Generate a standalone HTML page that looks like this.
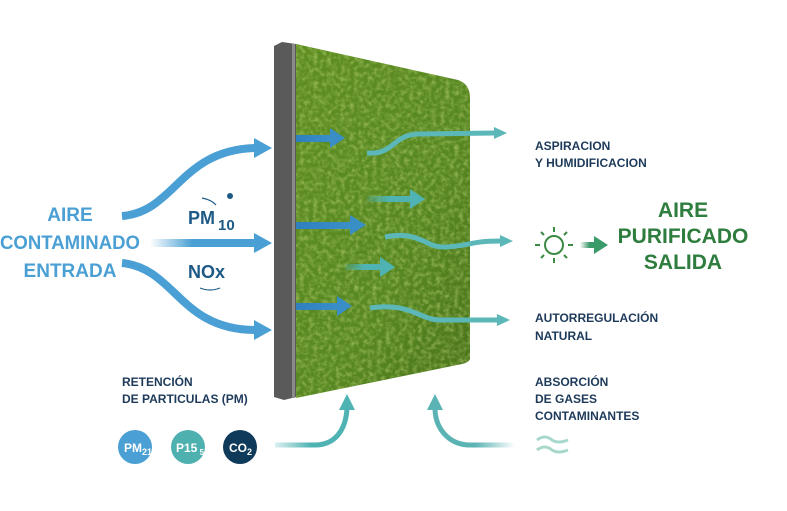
<!DOCTYPE html>
<html><head><meta charset="utf-8"><style>
html,body{margin:0;padding:0;background:#fff;}
svg{display:block;}
text{font-family:"Liberation Sans",sans-serif;font-weight:bold;}
</style></head><body>
<svg width="787" height="511" viewBox="0 0 787 511" xmlns="http://www.w3.org/2000/svg">
<defs>
<filter id="moss" x="0" y="0" width="100%" height="100%">
<feTurbulence type="fractalNoise" baseFrequency="0.22" numOctaves="3" seed="4"/>
<feColorMatrix type="matrix" values="0 0 0 0 0.55  0 0 0 0 0.70  0 0 0 0 0.20  0 0 0 1.8 -0.7"/>
<feComposite in2="SourceGraphic" operator="in"/>
</filter>
<linearGradient id="mg" x1="0" y1="0" x2="1" y2="1">
<stop offset="0" stop-color="#5e8e22"/><stop offset="0.6" stop-color="#578722"/><stop offset="1" stop-color="#4a741a"/></linearGradient>
<linearGradient id="bf" x1="0" x2="1"><stop offset="0" stop-color="#4a9fd4" stop-opacity="0"/><stop offset="0.4" stop-color="#4a9fd4"/></linearGradient>
<linearGradient id="tf" x1="0" x2="1"><stop offset="0" stop-color="#4fb3b3" stop-opacity="0.2"/><stop offset="0.5" stop-color="#4fb3b3"/></linearGradient>
<linearGradient id="tfr" x1="1" x2="0"><stop offset="0" stop-color="#5cb3b3" stop-opacity="0"/><stop offset="0.5" stop-color="#5cb3b3"/></linearGradient>
<linearGradient id="gf" x1="0" x2="1"><stop offset="0" stop-color="#3a9a6a" stop-opacity="0"/><stop offset="0.6" stop-color="#3a9a6a"/></linearGradient>
<linearGradient id="blt" x1="0" x2="1"><stop offset="0" stop-color="#2f7fbf"/><stop offset="1" stop-color="#3a90c8"/></linearGradient>
</defs>

<path d="M122,216 C175,212 180,150 255,148" fill="none" stroke="#4a9fd4" stroke-width="8"/>
<polygon points="254,138 272,148 254,158" fill="#4a9fd4"/>
<rect x="150" y="239" width="106" height="8" fill="url(#bf)"/>
<polygon points="254,233 272,243 254,253" fill="#4a9fd4"/>
<path d="M122,263 C175,268 180,330 255,330" fill="none" stroke="#4a9fd4" stroke-width="8"/>
<polygon points="254,320 272,330 254,340" fill="#4a9fd4"/>

<text x="70" y="221" fill="#4a9fd4" font-size="19" text-anchor="middle">AIRE</text>
<text x="70" y="249" fill="#4a9fd4" font-size="19" text-anchor="middle" textLength="140" lengthAdjust="spacingAndGlyphs">CONTAMINADO</text>
<text x="70" y="277" fill="#4a9fd4" font-size="19" text-anchor="middle">ENTRADA</text>
<text x="188" y="224" fill="#1d5a85" font-size="18">PM</text>
<text x="218" y="230" fill="#1d5a85" font-size="15" font-weight="normal">10</text>
<circle cx="230" cy="196" r="3" fill="#1d5a85"/>
<path d="M202,198 Q212,200 216,205" fill="none" stroke="#1d5a85" stroke-width="1.2"/>
<text x="188" y="278" fill="#1d5a85" font-size="18">NOx</text>
<path d="M200,288 Q210,292 220,288" fill="none" stroke="#1d5a85" stroke-width="1.2"/>

<polygon points="274,46 282,42 296,44 296,397 284,400 274,397" fill="#5a5a5a"/>
<rect x="292" y="44" width="3" height="354" fill="#8a8a8a"/>
<path d="M296,44 L458,80 Q470,84 470,98 L470,358 Q470,362 462,364 L296,398 Z" fill="url(#mg)"/>
<path d="M296,44 L458,80 Q470,84 470,98 L470,358 Q470,362 462,364 L296,398 Z" fill="#000" filter="url(#moss)" opacity="0.6"/>

<rect x="296" y="135" width="36" height="7" fill="url(#blt)"/>
<polygon points="330,128 345,138 330,148" fill="#3a8ec6"/>
<path d="M367,153 C395,155 392,134 420,134 L495,133" fill="none" stroke="#5cb8b8" stroke-width="5"/>
<polygon points="494,127 507,133 494,139" fill="#5cb8b8"/>
<rect x="367" y="196" width="45" height="6" fill="url(#tf)"/>
<polygon points="410,189 425,199 410,209" fill="#4fb3b3"/>
<rect x="296" y="222" width="55" height="7" fill="url(#blt)"/>
<polygon points="350,215 366,225 350,235" fill="#3a8ec6"/>
<path d="M385,237 C420,230 425,248 445,247 C470,246 470,241 500,241" fill="none" stroke="#5cb8b8" stroke-width="5"/>
<polygon points="500,235 513,241 500,247" fill="#5cb8b8"/>
<rect x="345" y="264" width="38" height="6" fill="url(#tf)"/>
<polygon points="380,257 395,267 380,277" fill="#4fb3b3"/>
<rect x="296" y="303" width="42" height="7" fill="url(#blt)"/>
<polygon points="337,296 352,306 337,316" fill="#3a8ec6"/>
<path d="M370,308 C410,302 420,320 440,320 L498,320" fill="none" stroke="#5cb8b8" stroke-width="5"/>
<polygon points="497,314 510,320 497,326" fill="#5cb8b8"/>

<g fill="#1d3a5a" font-size="12">
<text x="535" y="150">ASPIRACION</text>
<text x="535" y="167">Y HUMIDIFICACION</text>
<text x="535" y="322">AUTORREGULACIÓN</text>
<text x="535" y="340">NATURAL</text>
<text x="535" y="386">ABSORCIÓN</text>
<text x="535" y="403">DE GASES</text>
<text x="535" y="420">CONTAMINANTES</text>
<text x="122" y="386">RETENCIÓN</text>
<text x="122" y="403">DE PARTICULAS (PM)</text>
</g>

<g stroke="#3a8a44" stroke-width="2" fill="none">
<circle cx="554" cy="245" r="9"/>
<line x1="554" y1="227" x2="554" y2="232"/><line x1="554" y1="258" x2="554" y2="263"/>
<line x1="535" y1="245" x2="540" y2="245"/><line x1="568" y1="245" x2="573" y2="245"/>
<line x1="541" y1="232" x2="544" y2="235"/><line x1="564" y1="255" x2="567" y2="258"/>
<line x1="567" y1="232" x2="564" y2="235"/><line x1="541" y1="258" x2="544" y2="255"/>
</g>
<rect x="580" y="242" width="16" height="6" fill="url(#gf)"/>
<polygon points="594,236 608,245 594,254" fill="#3a9a6a"/>
<g fill="#2e7d3e" font-size="21" text-anchor="middle">
<text x="683" y="217">AIRE</text>
<text x="683" y="243">PURIFICADO</text>
<text x="683" y="269">SALIDA</text>
</g>

<circle cx="135" cy="447" r="17" fill="#4a9fd4"/>
<text x="124" y="452" fill="#fff" font-size="12" font-weight="normal">PM<tspan font-size="9" dy="3">21</tspan></text>
<circle cx="188" cy="447" r="17" fill="#4fb0b0"/>
<text x="176" y="452" fill="#fff" font-size="12" font-weight="normal">P15<tspan font-size="8" dy="3"> 5</tspan></text>
<circle cx="240" cy="447" r="17" fill="#0f3a5a"/>
<text x="229" y="452" fill="#fff" font-size="12" font-weight="normal">CO<tspan font-size="9" dy="3">2</tspan></text>

<path d="M275,445 L315,445 C335,445 346,430 347,408" fill="none" stroke="url(#tf)" stroke-width="5"/>
<polygon points="339,410 347,394 355,410" fill="#4fb3b3"/>
<path d="M515,445 L470,445 C450,445 436,430 435,410" fill="none" stroke="url(#tfr)" stroke-width="5"/>
<polygon points="427,410 435,394 443,410" fill="#5cb3b3"/>
<path d="M537,440 Q545,434 552,440 Q558,444 568,440" fill="none" stroke="#a8d8cc" stroke-width="3"/>
<path d="M537,450 Q545,444 552,450 Q558,454 568,450" fill="none" stroke="#a8d8cc" stroke-width="3"/>
</svg>
</body></html>
